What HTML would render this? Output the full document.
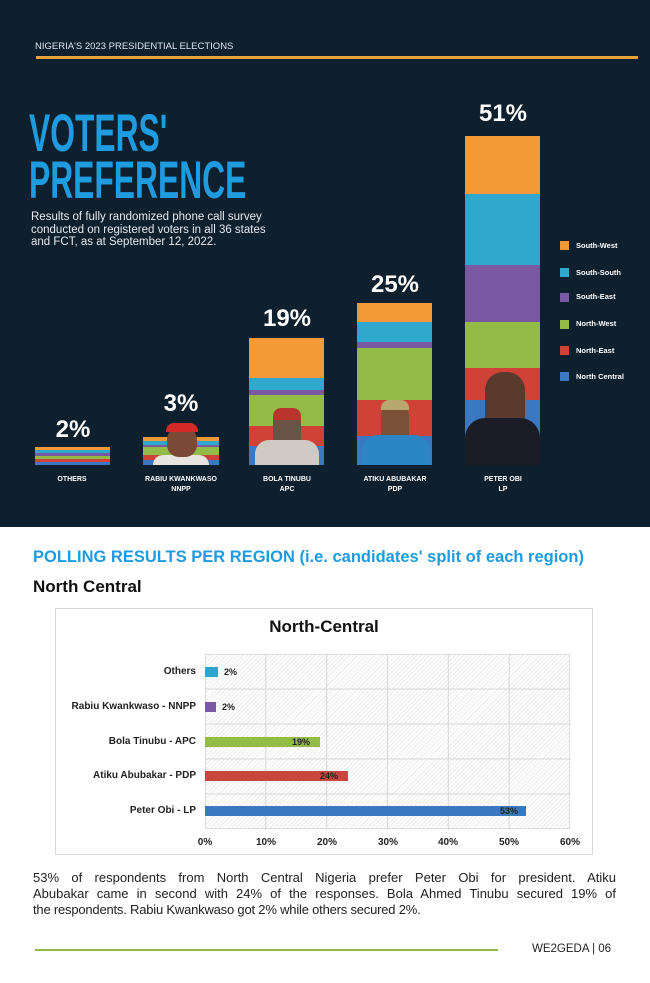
<!DOCTYPE html>
<html><head><meta charset="utf-8"><style>
*{margin:0;padding:0;box-sizing:border-box}
body{width:650px;height:983px;background:#fff;position:relative;overflow:hidden;font-family:"Liberation Sans",sans-serif}
.a{position:absolute}
#dark{left:0;top:0;width:650px;height:527px;background:#0e1f2d}
.pct{color:#fff;font-weight:bold;font-size:24px;text-align:center;width:90px}
.lab{color:#fff;font-weight:bold;font-size:7px;text-align:center;width:110px;line-height:10px}
.leg{left:560px;width:9px;height:9px}
.legt{left:576px;color:#fff;font-size:7.5px;font-weight:bold}
.seg{position:absolute;left:0;width:100%}
.row{font-size:10px;font-weight:bold;color:#222;text-align:right;width:160px;left:36px}
.tick{font-size:10px;font-weight:bold;color:#222;width:40px;text-align:center}
.bar{height:10px}
.bl{font-size:9px;font-weight:bold;color:#222}
.pl{text-align:justify;text-align-last:justify;white-space:nowrap;height:16px}
</style></head><body>
<div id="dark" class="a"></div>
<div class="a" style="left:35px;top:41px;color:#dfe6ee;font-size:9.5px">NIGERIA'S 2023 PRESIDENTIAL ELECTIONS</div>
<div class="a" style="left:36px;top:56px;width:602px;height:3px;background:#e8a33a"></div>
<div class="a" style="left:29px;top:110px;color:#1f9be0;font-weight:bold;font-size:53px;line-height:47px;transform:scaleX(0.6);transform-origin:0 0;white-space:nowrap">VOTERS'<br>PREFERENCE</div>
<div class="a" style="left:31px;top:211px;color:#e6ebf0;font-size:11.5px;line-height:12.5px;width:248px">Results of fully randomized phone call survey conducted on registered voters in all 36 states and FCT, as at September 12, 2022.</div>

<!-- bars -->
<div class="a" style="left:35px;top:447px;width:75px;height:18px;background:repeating-linear-gradient(#f39a38 0 3px,#30a8cc 3px 6px,#7a59a3 6px 9px,#93bb48 9px 12px,#cf4238 12px 15px,#3b78c1 15px 18px)"></div>
<div class="a" style="left:143px;top:437px;width:76px;height:28px;background:repeating-linear-gradient(#f39a38 0 4px,#30a8cc 4px 8px,#7a59a3 8px 10px,#93bb48 10px 18px,#cf4238 18px 23px,#3b78c1 23px 28px)"><div class="a" style="left:10px;top:18px;width:56px;height:10px;background:#e8e4e0;border-radius:10px 10px 0 0"></div><div class="a" style="left:24px;top:-11px;width:30px;height:31px;background:#7a4a36;border-radius:14px 14px 12px 12px"></div><div class="a" style="left:23px;top:-14px;width:32px;height:9px;background:#d62a2a;border-radius:8px 8px 0 0"></div></div>
<div class="a" style="left:249px;top:338px;width:75px;height:127px">
<div class="seg" style="top:0;height:40px;background:#f39a38"></div><div class="seg" style="top:40px;height:12px;background:#30a8cc"></div><div class="seg" style="top:52px;height:5px;background:#7a59a3"></div><div class="seg" style="top:57px;height:31px;background:#93bb48"></div><div class="seg" style="top:88px;height:20px;background:#cf4238"></div><div class="seg" style="top:108px;height:19px;background:#3b78c1"></div>
<div class="a" style="left:24px;top:72px;width:28px;height:45px;background:#6a5446;border-radius:12px 12px 10px 10px"></div><div class="a" style="left:24px;top:70px;width:28px;height:12px;background:#b8342c;border-radius:8px 8px 0 0"></div><div class="a" style="left:6px;top:102px;width:64px;height:25px;background:#cfcac4;border-radius:14px 14px 0 0"></div></div>
<div class="a" style="left:357px;top:303px;width:75px;height:162px">
<div class="seg" style="top:0;height:19px;background:#f39a38"></div><div class="seg" style="top:19px;height:20px;background:#30a8cc"></div><div class="seg" style="top:39px;height:6px;background:#7a59a3"></div><div class="seg" style="top:45px;height:52px;background:#93bb48"></div><div class="seg" style="top:97px;height:36px;background:#cf4238"></div><div class="seg" style="top:133px;height:29px;background:#3b78c1"></div>
<div class="a" style="left:24px;top:100px;width:28px;height:42px;background:#7a5038;border-radius:13px 13px 10px 10px"></div><div class="a" style="left:24px;top:97px;width:28px;height:10px;background:#b8a870;border-radius:8px 8px 0 0"></div><div class="a" style="left:5px;top:132px;width:68px;height:30px;background:#2c86c6;border-radius:16px 16px 0 0"></div></div>
<div class="a" style="left:465px;top:136px;width:75px;height:329px">
<div class="seg" style="top:0;height:58px;background:#f39a38"></div><div class="seg" style="top:58px;height:71px;background:#30a8cc"></div><div class="seg" style="top:129px;height:57px;background:#7a59a3"></div><div class="seg" style="top:186px;height:46px;background:#93bb48"></div><div class="seg" style="top:232px;height:32px;background:#cf4238"></div><div class="seg" style="top:264px;height:65px;background:#3b78c1"></div>
<div class="a" style="left:20px;top:236px;width:40px;height:60px;background:#5a3a2c;border-radius:18px 18px 10px 10px"></div><div class="a" style="left:0;top:282px;width:75px;height:47px;background:#1b1d26;border-radius:20px 20px 0 0"></div></div>

<div class="a pct" style="left:28px;top:416px">2%</div>
<div class="a pct" style="left:136px;top:390px">3%</div>
<div class="a pct" style="left:242px;top:305px">19%</div>
<div class="a pct" style="left:350px;top:271px">25%</div>
<div class="a pct" style="left:458px;top:100px">51%</div>
<div class="a lab" style="left:17px;top:475px">OTHERS</div>
<div class="a lab" style="left:126px;top:475px">RABIU KWANKWASO<br>NNPP</div>
<div class="a lab" style="left:232px;top:475px">BOLA TINUBU<br>APC</div>
<div class="a lab" style="left:340px;top:475px">ATIKU ABUBAKAR<br>PDP</div>
<div class="a lab" style="left:448px;top:475px">PETER OBI<br>LP</div>

<div class="a leg" style="top:241px;background:#f39a38"></div><div class="a legt" style="top:241px">South-West</div>
<div class="a leg" style="top:268px;background:#30a8cc"></div><div class="a legt" style="top:268px">South-South</div>
<div class="a leg" style="top:293px;background:#7a59a3"></div><div class="a legt" style="top:292px">South-East</div>
<div class="a leg" style="top:320px;background:#93bb48"></div><div class="a legt" style="top:319px">North-West</div>
<div class="a leg" style="top:346px;background:#cf4238"></div><div class="a legt" style="top:346px">North-East</div>
<div class="a leg" style="top:372px;background:#3b78c1"></div><div class="a legt" style="top:372px">North Central</div>

<div class="a" style="left:33px;top:548px;color:#1f9be0;font-weight:bold;font-size:16.5px">POLLING RESULTS PER REGION (i.e. candidates' split of each region)</div>
<div class="a" style="left:33px;top:577px;color:#111;font-weight:bold;font-size:17px">North Central</div>

<div class="a" style="left:55px;top:608px;width:538px;height:247px;border:1px solid #d8d8d8"></div>
<div class="a" style="left:55px;top:617px;width:538px;text-align:center;font-weight:bold;font-size:17px;color:#111">North-Central</div>
<div class="a" style="left:205px;top:654px;width:365px;height:175px;border:1px solid #ddd;background:repeating-linear-gradient(135deg,#fff 0 2px,#ececec 2px 3px)"></div>
<svg class="a" style="left:205px;top:654px" width="366" height="176"><g stroke="#d6d6d6" stroke-width="1">
<line x1="60.8" y1="0" x2="60.8" y2="176"/><line x1="121.7" y1="0" x2="121.7" y2="176"/><line x1="182.5" y1="0" x2="182.5" y2="176"/><line x1="243.3" y1="0" x2="243.3" y2="176"/><line x1="304.2" y1="0" x2="304.2" y2="176"/>
<line x1="0" y1="35" x2="366" y2="35"/><line x1="0" y1="70" x2="366" y2="70"/><line x1="0" y1="105" x2="366" y2="105"/><line x1="0" y1="140" x2="366" y2="140"/></g></svg>
<div class="a row" style="top:666px">Others</div>
<div class="a row" style="top:701px">Rabiu Kwankwaso - NNPP</div>
<div class="a row" style="top:736px">Bola Tinubu - APC</div>
<div class="a row" style="top:770px">Atiku Abubakar - PDP</div>
<div class="a row" style="top:805px">Peter Obi - LP</div>
<div class="a bar" style="left:205px;top:667px;width:13px;background:#2ea5cc"></div><div class="a bl" style="left:224px;top:667px">2%</div>
<div class="a bar" style="left:205px;top:702px;width:11px;background:#7a59a3"></div><div class="a bl" style="left:222px;top:702px">2%</div>
<div class="a bar" style="left:205px;top:737px;width:115px;background:#93bb48"></div><div class="a bl" style="left:292px;top:737px">19%</div>
<div class="a bar" style="left:205px;top:771px;width:143px;background:#c9463c"></div><div class="a bl" style="left:320px;top:771px">24%</div>
<div class="a bar" style="left:205px;top:806px;width:321px;background:#3a78c1"></div><div class="a bl" style="left:500px;top:806px">53%</div>
<div class="a tick" style="left:185px;top:837px">0%</div>
<div class="a tick" style="left:246px;top:837px">10%</div>
<div class="a tick" style="left:307px;top:837px">20%</div>
<div class="a tick" style="left:368px;top:837px">30%</div>
<div class="a tick" style="left:428px;top:837px">40%</div>
<div class="a tick" style="left:489px;top:837px">50%</div>
<div class="a tick" style="left:550px;top:837px">60%</div>

<div class="a" style="left:33px;top:870px;width:583px;font-size:13px;line-height:16px;color:#222">
<div class="pl">53% of respondents from North Central Nigeria prefer Peter Obi for president. Atiku</div>
<div class="pl">Abubakar came in second with 24% of the responses. Bola Ahmed Tinubu secured 19% of</div>
<div style="white-space:nowrap;letter-spacing:-0.2px">the respondents. Rabiu Kwankwaso got 2% while others secured 2%.</div>
</div>
<div class="a" style="left:35px;top:949px;width:463px;height:2px;background:#8fbc3f"></div>
<div class="a" style="left:532px;top:943px;font-size:11.5px;color:#222">WE2GEDA | 06</div>
</body></html>
